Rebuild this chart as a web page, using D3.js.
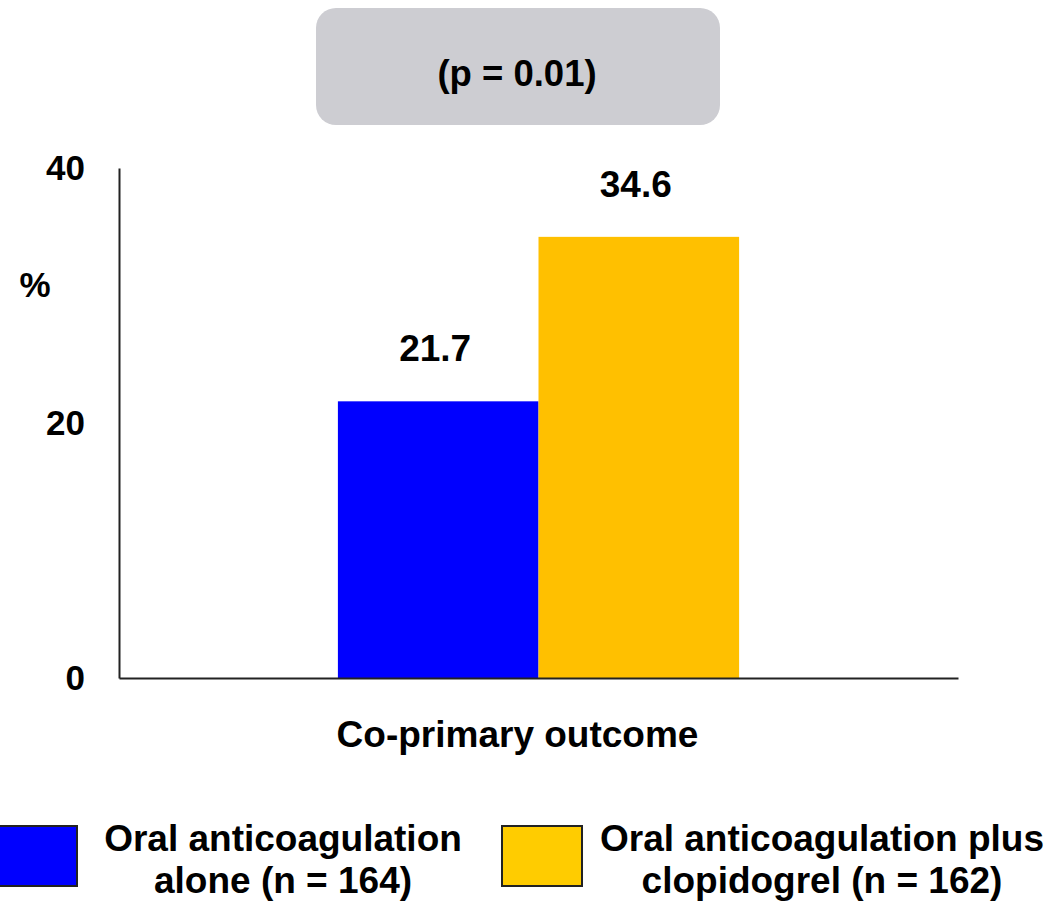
<!DOCTYPE html>
<html>
<head>
<meta charset="utf-8">
<script src="https://cdn.jsdelivr.net/npm/d3@7"></script>
<style>
  body { margin: 0; background: #fff; }
  text { font-family: "Liberation Sans", Arial, sans-serif; font-weight: bold; fill: #000; }
</style>
</head>
<body>
<div id="chart"></div>
<script>
// Co-primary outcome, OAC alone vs OAC + clopidogrel

const categories = ["Co-primary outcome"];
const seriesNames = ["Oral anticoagulation alone (n = 164)", "Oral anticoagulation plus clopidogrel (n = 162)"];
const legendLines = [["Oral anticoagulation", "alone (n = 164)"], ["Oral anticoagulation plus", "clopidogrel (n = 162)"]];
const values = [21.7, 34.6];
const barColors = ["#0000FF", "#FFC000"];
const legendColors = ["#0000FF", "#FFCC00"];
const yTicks = [0, 20, 40];
const pLabel = "(p = 0.01)";

function main() {
  const width = 1050;
  const height = 901;

  const svg = d3.select("#chart").append("svg")
    .attr("width", width)
    .attr("height", height);

  // boîte p-value
  svg.append("rect")
    .attr("x", 316).attr("y", 8)
    .attr("width", 404).attr("height", 117)
    .attr("rx", 20)
    .attr("fill", "#CDCDD2");
  svg.append("text")
    .attr("x", 517).attr("y", 86)
    .attr("text-anchor", "middle")
    .style("font-size", "36.5px")
    .text(pLabel);

  const x0 = d3.scaleBand()
    .domain(categories)
    .range([119, 958])
    .padding(0.353);

  const x1 = d3.scaleBand()
    .domain(seriesNames)
    .range([0, x0.bandwidth()]);

  const y = d3.scaleLinear()
    .domain([0, 40])
    .range([678, 168]);

  // Barres
  const group = svg.append("g")
    .attr("transform", `translate(${x0(categories[0])},0)`);

  group.selectAll("rect")
    .data(values)
    .join("rect")
    .attr("x", (d, i) => x1(seriesNames[i]))
    .attr("y", d => y(d))
    .attr("width", x1.bandwidth())
    .attr("height", d => y(0) - y(d))
    .attr("fill", (d, i) => barColors[i]);

  group.selectAll("text.val")
    .data(values)
    .join("text")
    .attr("class", "val")
    .attr("x", (d, i) => x1(seriesNames[i]) + x1.bandwidth() / 2 - 3)
    .attr("y", d => y(d) - 40)
    .attr("text-anchor", "middle")
    .style("font-size", "37px")
    .text(d => d.toFixed(1));

  // Axe Y
  const yAxis = svg.append("g")
    .attr("transform", "translate(119,0)")
    .call(d3.axisLeft(y).tickValues(yTicks).tickSize(0).tickPadding(34));
  yAxis.select(".domain").attr("stroke", "#222").attr("stroke-width", 2);
  yAxis.selectAll(".tick text")
    .attr("font-family", null)
    .attr("font-size", null)
    .style("font-size", "35px");

  svg.append("text")
    .attr("x", 35).attr("y", 297)
    .attr("text-anchor", "middle")
    .style("font-size", "35px")
    .text("%");

  // Axe X
  const xAxis = svg.append("g")
    .attr("transform", "translate(0,678)")
    .call(d3.axisBottom(x0).tickSize(0).tickPadding(43));
  xAxis.select(".domain").attr("stroke", "#222").attr("stroke-width", 2);
  xAxis.selectAll(".tick text")
    .attr("font-family", null)
    .attr("font-size", null)
    .attr("x", -21)
    .style("font-size", "37px");

  // Légende
  const legendX = [0, 502];
  const legend = svg.selectAll("g.legend")
    .data(seriesNames)
    .join("g")
    .attr("class", "legend")
    .attr("transform", (d, i) => `translate(${legendX[i]},826)`);

  legend.append("rect")
    .attr("x", (d, i) => i === 0 ? -2 : 0)
    .attr("y", 0)
    .attr("width", (d, i) => i === 0 ? 79 : 80)
    .attr("height", 60)
    .attr("fill", (d, i) => legendColors[i])
    .attr("stroke", "#222")
    .attr("stroke-width", 2);

  legend.append("text")
    .attr("x", (d, i) => i === 0 ? 283 : 320)
    .attr("text-anchor", "middle")
    .style("font-size", "37px")
    .selectAll("tspan")
    .data((d, i) => legendLines[i])
    .join("tspan")
    .attr("x", function() { return this.parentNode.getAttribute("x"); })
    .attr("y", (d, j) => 25 + j * 42)
    .text(d => d);
}

main();
</script>
</body>
</html>
